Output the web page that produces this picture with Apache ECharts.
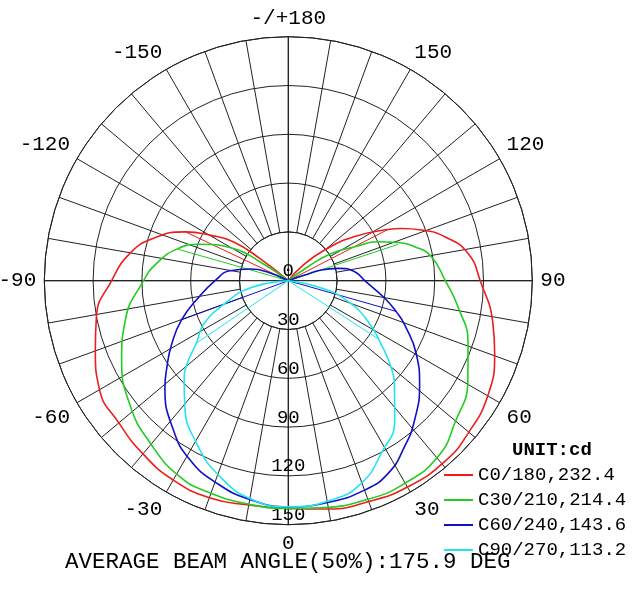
<!DOCTYPE html>
<html>
  <meta charset="UTF-8">
  <title>Polar intensity</title>
  <style type="text/css">
    html,body{margin:0px;height:100%;width:100%;background:#fff}
    .container{width:642px;height:600px}
  </style>
  <script type="text/javascript" src="https://cdn.jsdelivr.net/npm/echarts@6/dist/echarts.min.js"></script>
  <body>
    <div id="chart" class="container"></div>
    <script>
      // [gamma angle, intensity] — negative gamma is the left half
      var c0 = [[-130,0],[-128,22],[-125.3,41.5],[-120.2,55.7],[-115.4,70],[-107.4,87],[-99.8,98.8],[-90,108.6],
        [-79.4,120],[-70.3,126],[-60,134],[-50,136],[-40,139],[-30,141.5],[-20,142],[-10,140],[0,140],
        [10,142.5],[20,144.5],[30,146.5],[40.8,147],[49.6,145],[60.2,141.5],[70.6,134.5],[78.2,128.5],[90,118],
        [98.7,111.7],[105.7,99.9],[110.9,87.5],[114.8,76.6],[117.2,68.9],[123.6,49],[130.2,29.2],[137,11.7],[140,0]];
      var c30 = [[-126,0],[-123.8,21],[-120.4,39.2],[-112.4,58.7],[-106,71],[-97.5,81.6],[-90,89],
        [-76.5,103],[-64.5,113.5],[-51.5,124],[-40.4,131],[-29,137.7],[-20,139],[-10,139.5],[0,140],
        [8.2,141],[20,143],[29.9,143.7],[40.4,142],[49.4,134.7],[61,126.2],[70.8,117],[81.3,105.5],[90,96.5],
        [99.5,89.2],[105.1,80.4],[109.8,69.5],[113.5,60],[117.1,45.8],[122.4,31.3],[125.4,14.8],[128,0]];
      var c60 = [[-115,0],[-112.6,14.4],[-106.9,24.6],[-99.7,36.4],[-90,45],[-79.5,56],[-69.9,69.8],
        [-61.3,81.8],[-54.3,92],[-49,100.5],[-37.6,115.8],[-28.7,125.7],[-19.5,132],[-10,136.5],[0,139],
        [10,138.5],[20,137],[27.4,133.4],[35,124.6],[42.2,115.6],[51.6,103],[60,91],[69.3,76.4],[74,69],[79.8,60.1],
        [90,47],[97.7,41.2],[103.9,31.5],[107.9,21.3],[109,10.6],[111,0]];
      var c90 = [[-85,0],[-79.2,24],[-69.7,42.6],[-62.6,58.8],[-56,68],[-50.4,81],[-46,89],[-39.4,100.2],
        [-29.4,114.8],[-19.2,127.6],[-9.1,136.5],[0,139],
        [11.1,137.4],[19.8,132.4],[28.3,120.5],[37.4,107.7],[44.7,92.8],[49.7,83],[55.5,69.4],[63,54.9],[70.9,38.8],
        [77.5,20.8],[83,0]];
      // straight chords from the centre to one point on each half
      var c0Chords = [[-115.4,70],[117.2,68.9]];
      var c30Chords = [[-105.9,70.3],[108.3,71]];
      var c60Chords = [[-69.9,69.8],[74.1,69]];
      var c90Chords = [[-55.8,68.1],[57.1,66.8]];

      var names = ['C0/180,232.4', 'C30/210,214.4', 'C60/240,143.6', 'C90/270,113.2'];
      var colors = ['#ee1c1c', '#22cc22', '#1010c8', '#22e4f0'];
      var curves = [c0, c30, c60, c90];
      var chords = [c0Chords, c30Chords, c60Chords, c90Chords];

      var font = 'Liberation Mono';
      var cx = 288.3, cy = 280.7, R = 244;

      function toPolar(p) {
        return [p[1], p[0] < 0 ? p[0] + 360 : p[0]];
      }

      var series = [];
      curves.forEach(function (c, i) {
        series.push({
          name: names[i], type: 'line', coordinateSystem: 'polar', polarIndex: 0,
          symbol: 'none', showSymbol: false, smooth: 0.5,
          lineStyle: { color: colors[i], width: 1.6 },
          itemStyle: { color: colors[i] },
          data: c.map(toPolar)
        });
        var ch = chords[i];
        series.push({
          name: names[i], type: 'line', coordinateSystem: 'polar', polarIndex: 0,
          symbol: 'none', showSymbol: false,
          lineStyle: { color: colors[i], width: 1 },
          itemStyle: { color: colors[i] },
          data: [toPolar(ch[0]), [0, ch[0][0] + 360], null, [0, ch[1][0]], toPolar(ch[1])]
        });
      });

      var chart = echarts.init(document.getElementById('chart'), null, { renderer: 'canvas' });
      chart.setOption({
        animation: false,
        backgroundColor: '#fff',
        title: [
          { text: 'UNIT:cd', left: 512, top: 441, padding: 0,
            textStyle: { fontFamily: font, fontSize: 19, fontWeight: 'bold', color: '#000' } },
          { text: 'AVERAGE BEAM ANGLE(50%):175.9 DEG', left: 65, top: 551, padding: 0,
            textStyle: { fontFamily: font, fontSize: 22.5, fontWeight: 'normal', color: '#000' } }
        ],
        legend: {
          orient: 'vertical', left: 444, top: 465, padding: 0,
          icon: 'rect', itemWidth: 29, itemHeight: 2, itemGap: 5,
          data: names,
          textStyle: { fontFamily: font, fontSize: 19, lineHeight: 20, color: '#000' }
        },
        polar: [
          { center: [cx, cy], radius: [0, R] },
          { center: [cx, cy], radius: [R / 5, R] }
        ],
        angleAxis: [
          { polarIndex: 0, type: 'value', min: 0, max: 360, interval: 90, startAngle: 270, clockwise: false,
            axisLine: { show: false }, axisTick: { show: false }, axisLabel: { show: false },
            splitLine: { show: true, lineStyle: { color: '#000', width: 1 } } },
          { polarIndex: 1, type: 'value', min: 0, max: 360, interval: 10, startAngle: 270, clockwise: false,
            axisLine: { show: true, lineStyle: { color: '#222', width: 1 } },
            axisTick: { show: false },
            splitLine: { show: true, lineStyle: { color: '#222', width: 1 } },
            axisLabel: {
              show: true, margin: 8, fontFamily: font, fontSize: 21, color: '#000',
              formatter: function (v) {
                if (v % 30 !== 0 || v === 360) return '';
                if (v === 180) return '-/+180';
                return String(v > 180 ? v - 360 : v);
              }
            } }
        ],
        radiusAxis: [
          { polarIndex: 0, type: 'value', min: 0, max: 150, interval: 30,
            axisLine: { show: false }, axisTick: { show: false },
            splitLine: { show: true, lineStyle: { color: '#222', width: 1 } },
            axisLabel: { show: true, margin: 0, align: 'center', verticalAlign: 'bottom',
              fontFamily: font, fontSize: 19, color: '#000' } },
          { polarIndex: 1, type: 'value', min: 0, max: 150, show: false }
        ],
        series: series
      });
    </script>
  </body>
</html>
